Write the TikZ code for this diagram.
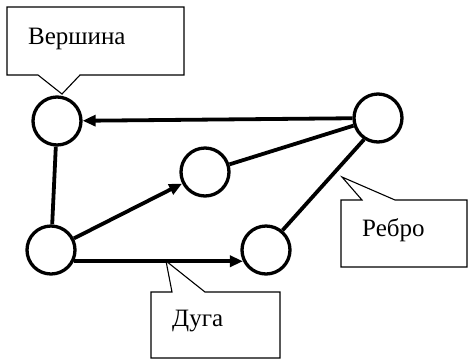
\documentclass[tikz,border=0pt]{standalone}
\usepackage{fontspec}
\setmainfont{Liberation Serif}
\usetikzlibrary{arrows.meta}
\tikzset{
  vertex/.style={draw, circle, line width=3.3pt, minimum size=48pt, inner sep=0pt},
  edge/.style={line width=3.8pt},
  arc/.style={edge, -{Triangle[length=13pt,width=11pt]}},
  callout/.style={draw, line width=1.1pt, fill=white, line join=miter},
  calltext/.style={anchor=base west, font=\rmfamily\fontsize{25}{30}\selectfont, inner sep=0pt}
}
\begin{document}
\begin{tikzpicture}[x=1pt,y=-1pt]
  \useasboundingbox (0,0) rectangle (468,360);
  \node[vertex] (A) at (57,121) {};
  \node[vertex] (B) at (378,118) {};
  \node[vertex] (C) at (205,172) {};
  \node[vertex] (D) at (51,250) {};
  \node[vertex] (E) at (266,250) {};
  \draw[arc] (B) -- (A);
  \draw[edge] (C) -- (B);
  \draw[edge] (E.50) -- (B.237);
  \draw[edge] (A) -- (D);
  \draw[arc] (D) -- (C);
  \draw[arc] (D.-26) -- (E.206);
  % callouts: box with a pointer to the named tip
  \coordinate (tipA) at (62,94);
  \coordinate (tipEdge) at (342,177);
  \coordinate (tipArc) at (166,261);
  \draw[callout] (7,75) -- (38,75) -- (tipA) -- (80,75) -- (184,75) -- (184,7) -- (7,7) -- cycle;
  \draw[callout] (341,200) -- (362,200) -- (tipEdge) -- (395,200) -- (467,200) -- (467,267) -- (341,267) -- cycle;
  \draw[callout] (151,292) -- (172,292) -- (tipArc) -- (205,292) -- (280,292) -- (280,358) -- (151,358) -- cycle;
  \node[calltext] (vertexText) at (28,44) {Вершина};
  \node[calltext] (edgeText) at (362,236) {Ребро};
  \node[calltext] (arcText) at (172,326) {Дуга};
\end{tikzpicture}
\end{document}
